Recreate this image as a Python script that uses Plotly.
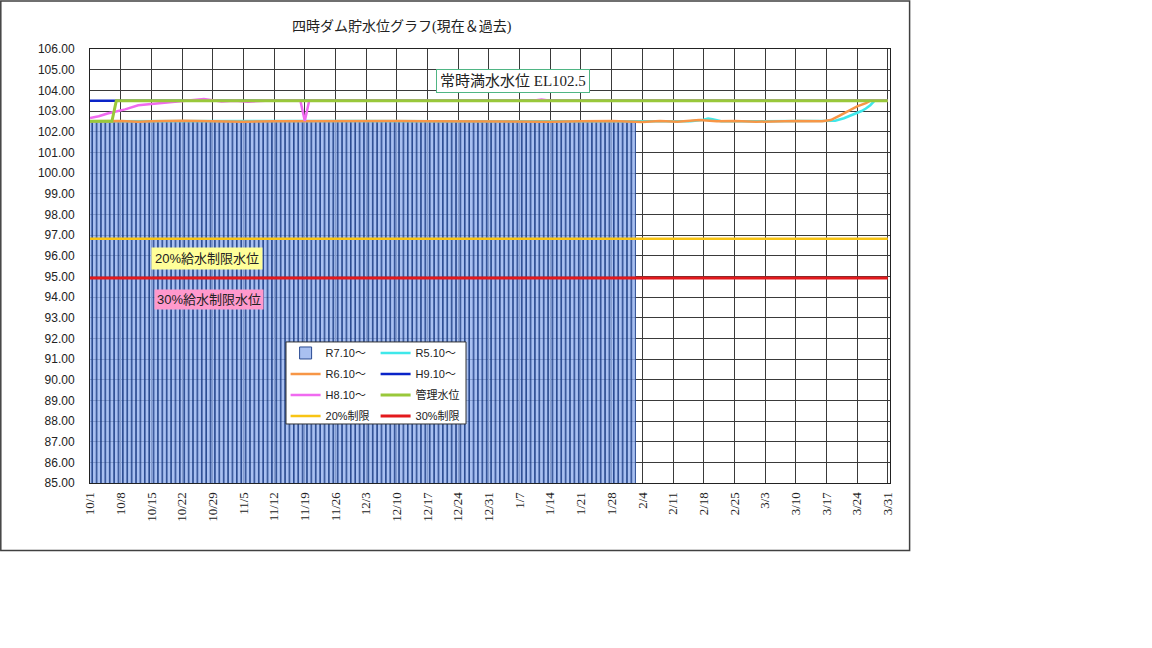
import pandas as pd
import plotly.graph_objects as go

# R7.10~ daily water level (bars), 10/1 - 2/2
r7_oct = [102.50, 102.51, 102.50, 102.50, 102.49, 102.50, 102.51, 102.50, 102.50, 102.52,
          102.51, 102.50, 102.49, 102.50, 102.50, 102.51, 102.50, 102.50, 102.49, 102.50,
          102.51, 102.50, 102.50, 102.50, 102.49, 102.50, 102.51, 102.50, 102.50, 102.50, 102.49]
r7_nov = [102.50, 102.50, 102.51, 102.50, 102.49, 102.50, 102.50, 102.51, 102.50, 102.50,
          102.49, 102.50, 102.50, 102.51, 102.50, 102.50, 102.49, 102.50, 102.50, 102.51,
          102.50, 102.50, 102.49, 102.50, 102.50, 102.51, 102.50, 102.50, 102.49, 102.50]
r7_dec = [102.50, 102.51, 102.50, 102.50, 102.49, 102.50, 102.50, 102.51, 102.50, 102.50,
          102.49, 102.50, 102.50, 102.51, 102.50, 102.50, 102.49, 102.50, 102.50, 102.51,
          102.50, 102.50, 102.49, 102.50, 102.50, 102.51, 102.50, 102.50, 102.49, 102.50, 102.50]
r7_jan = [102.51, 102.50, 102.50, 102.49, 102.50, 102.50, 102.51, 102.50, 102.50, 102.49,
          102.50, 102.50, 102.51, 102.50, 102.50, 102.49, 102.50, 102.50, 102.51, 102.50,
          102.50, 102.49, 102.50, 102.50, 102.51, 102.50, 102.50, 102.49, 102.50, 102.50, 102.51]
r7_feb = [102.50, 102.50]
r7_dates = pd.date_range("2023-10-01", "2024-02-02", freq="D")
r7_vals = r7_oct + r7_nov + r7_dec + r7_jan + r7_feb

# R5.10~
r5_dates = ["2023-10-01", "2023-10-20", "2023-11-10", "2023-12-01", "2023-12-20", "2024-01-10",
            "2024-02-01", "2024-02-15", "2024-02-18", "2024-02-19", "2024-02-20", "2024-02-22",
            "2024-03-01", "2024-03-10", "2024-03-17", "2024-03-19", "2024-03-21", "2024-03-23",
            "2024-03-25", "2024-03-26", "2024-03-27", "2024-03-28"]
r5_vals = [102.50, 102.51, 102.50, 102.52, 102.50, 102.51,
           102.50, 102.51, 102.58, 102.64, 102.60, 102.51,
           102.50, 102.52, 102.50, 102.53, 102.65, 102.82,
           103.00, 103.12, 103.28, 103.50]

# R6.10~
r6_dates = ["2023-10-01", "2023-10-08", "2023-10-12", "2023-10-15", "2023-10-22", "2023-10-29",
            "2023-11-05", "2023-11-12", "2023-11-19", "2023-11-26", "2023-12-03", "2023-12-10",
            "2023-12-17", "2023-12-24", "2023-12-31", "2024-01-07", "2024-01-14", "2024-01-21",
            "2024-01-28", "2024-02-04", "2024-02-08", "2024-02-12", "2024-02-17", "2024-02-21",
            "2024-02-25", "2024-03-01", "2024-03-05", "2024-03-10", "2024-03-16", "2024-03-18",
            "2024-03-20", "2024-03-22", "2024-03-24", "2024-03-26", "2024-03-27"]
r6_vals = [102.50, 102.52, 102.48, 102.51, 102.53, 102.50,
           102.48, 102.50, 102.51, 102.49, 102.50, 102.52,
           102.50, 102.49, 102.51, 102.50, 102.48, 102.50,
           102.52, 102.47, 102.52, 102.48, 102.56, 102.50,
           102.52, 102.48, 102.50, 102.52, 102.50, 102.56,
           102.78, 103.02, 103.22, 103.38, 103.50]

# H9.10~
h9_dates = ["2023-10-01", "2023-10-07", "2024-03-31"]
h9_vals = [103.50, 103.50, 103.50]

# H8.10~
h8_dates = ["2023-10-01", "2023-10-03", "2023-10-05", "2023-10-07", "2023-10-09", "2023-10-12",
            "2023-10-16", "2023-10-20", "2023-10-24", "2023-10-27", "2023-10-31", "2023-11-03",
            "2023-11-06", "2023-11-10", "2023-11-18", "2023-11-19", "2023-11-20", "2024-01-10",
            "2024-01-12", "2024-01-14", "2024-03-31"]
h8_vals = [102.66, 102.75, 102.88, 102.98, 103.08, 103.28,
           103.36, 103.45, 103.55, 103.58, 103.46, 103.50,
           103.45, 103.50, 103.50, 102.52, 103.50, 103.50,
           103.55, 103.50, 103.50]

# 管理水位
kanri_dates = ["2023-10-01", "2023-10-06", "2023-10-07", "2024-03-31"]
kanri_vals = [102.50, 102.50, 103.50, 103.50]

# 給水制限水位
lim_dates = ["2023-10-01", "2024-03-31"]
lim20_vals = [96.82, 96.82]
lim30_vals = [94.92, 94.92]

serif = "Liberation Serif, Noto Sans CJK JP"
sans = "Liberation Sans, Noto Sans CJK JP"

fig = go.Figure()

fig.add_trace(go.Bar(x=r7_dates, y=r7_vals, name="R7.10〜", legend="legend", legendgroup="r7",
                     marker=dict(color="rgba(150,178,238,0.82)", line=dict(color="#2A4B92", width=1))))
fig.add_trace(go.Scatter(x=r5_dates, y=r5_vals, name="R5.10〜", mode="lines", legend="legend2",
                         legendgroup="r5", line=dict(color="#3FE8EA", width=2.5)))
fig.add_trace(go.Scatter(x=r6_dates, y=r6_vals, name="R6.10〜", mode="lines", legend="legend",
                         legendgroup="r6", line=dict(color="#F79646", width=2.5)))
fig.add_trace(go.Scatter(x=h9_dates, y=h9_vals, name="H9.10〜", mode="lines", legend="legend2",
                         legendgroup="h9", line=dict(color="#0A24C8", width=2.5)))
fig.add_trace(go.Scatter(x=h8_dates, y=h8_vals, name="H8.10〜", mode="lines", legend="legend",
                         legendgroup="h8", line=dict(color="#F06AF0", width=2.5)))
fig.add_trace(go.Scatter(x=kanri_dates, y=kanri_vals, name="管理水位", mode="lines", legend="legend2",
                         legendgroup="kanri", line=dict(color="#99C83A", width=3)))
fig.add_trace(go.Scatter(x=lim_dates, y=lim20_vals, name="20%制限", mode="lines", legend="legend",
                         legendgroup="l20", line=dict(color="#F8C414", width=2.5)))
fig.add_trace(go.Scatter(x=lim_dates, y=lim30_vals, name="30%制限", mode="lines", legend="legend2",
                         legendgroup="l30", line=dict(color="#E3191C", width=3)))

legend_style = dict(font=dict(family=sans, size=11, color="#222"), bgcolor="rgba(0,0,0,0)",
                    borderwidth=0, yanchor="top", xanchor="left", itemwidth=30,
                    traceorder="grouped", tracegroupgap=2)

fig.update_layout(
    width=1152, height=648,
    margin=dict(l=90, r=262, t=49, b=165),
    paper_bgcolor="white", plot_bgcolor="white",
    bargap=0.15,
    showlegend=True,
    legend=dict(x=0.2445, y=0.333, **legend_style),
    legend2=dict(x=0.357, y=0.333, **legend_style),
    xaxis=dict(type="date", range=["2023-10-01", "2024-03-31 12:00"],
               tick0="2023-10-01", dtick=7 * 86400000, tickformat="%-m/%-d",
               tickangle=-90, tickfont=dict(family=serif, size=13, color="#222"),
               ticklabelstandoff=3,
               showgrid=True, gridcolor="#3a3a3a", gridwidth=1,
               showline=True, linecolor="#222", linewidth=1, mirror=True, ticks=""),
    yaxis=dict(range=[85, 106], dtick=1, tickformat=".2f",
               tickfont=dict(family=sans, size=12, color="#222"),
               ticklabelstandoff=12,
               showgrid=True, gridcolor="#3a3a3a", gridwidth=1,
               showline=True, linecolor="#222", linewidth=1, mirror=True, ticks=""),
    shapes=[
        # outer chart frame
        dict(type="rect", xref="paper", yref="paper", x0=-0.1115, x1=1.0245, y0=-0.1555, y1=1.1105,
             line=dict(color="#404040", width=1.5), fillcolor="rgba(0,0,0,0)", layer="below"),
        # legend box
        dict(type="rect", xref="paper", yref="paper", x0=0.245, x1=0.47, y0=0.136, y1=0.325,
             line=dict(color="#333", width=1), fillcolor="white", layer="above"),
    ],
    annotations=[
        dict(text="四時ダム貯水位グラフ(現在＆過去)", xref="paper", yref="paper", x=0.39, y=1.073,
             xanchor="center", showarrow=False, font=dict(family=serif, size=14, color="#222")),
        dict(text="常時満水水位 EL102.5", xref="paper", yref="paper", x=0.529, y=0.954,
             xanchor="center", showarrow=False, font=dict(family=serif, size=15, color="#222"),
             bgcolor="white", bordercolor="#4FB584", borderwidth=1, borderpad=3),
        dict(text="20%給水制限水位", xref="paper", yref="paper", x=0.146, y=0.518,
             xanchor="center", showarrow=False, font=dict(family=sans, size=13, color="#222"),
             bgcolor="#FFFF99", borderpad=3),
        dict(text="30%給水制限水位", xref="paper", yref="paper", x=0.149, y=0.422,
             xanchor="center", showarrow=False, font=dict(family=sans, size=13, color="#222"),
             bgcolor="#FF99CC", borderpad=2),
    ],
)

fig.write_html("out.html", config={"displayModeBar": False},
               post_script="document.body.style.margin='0px';")
